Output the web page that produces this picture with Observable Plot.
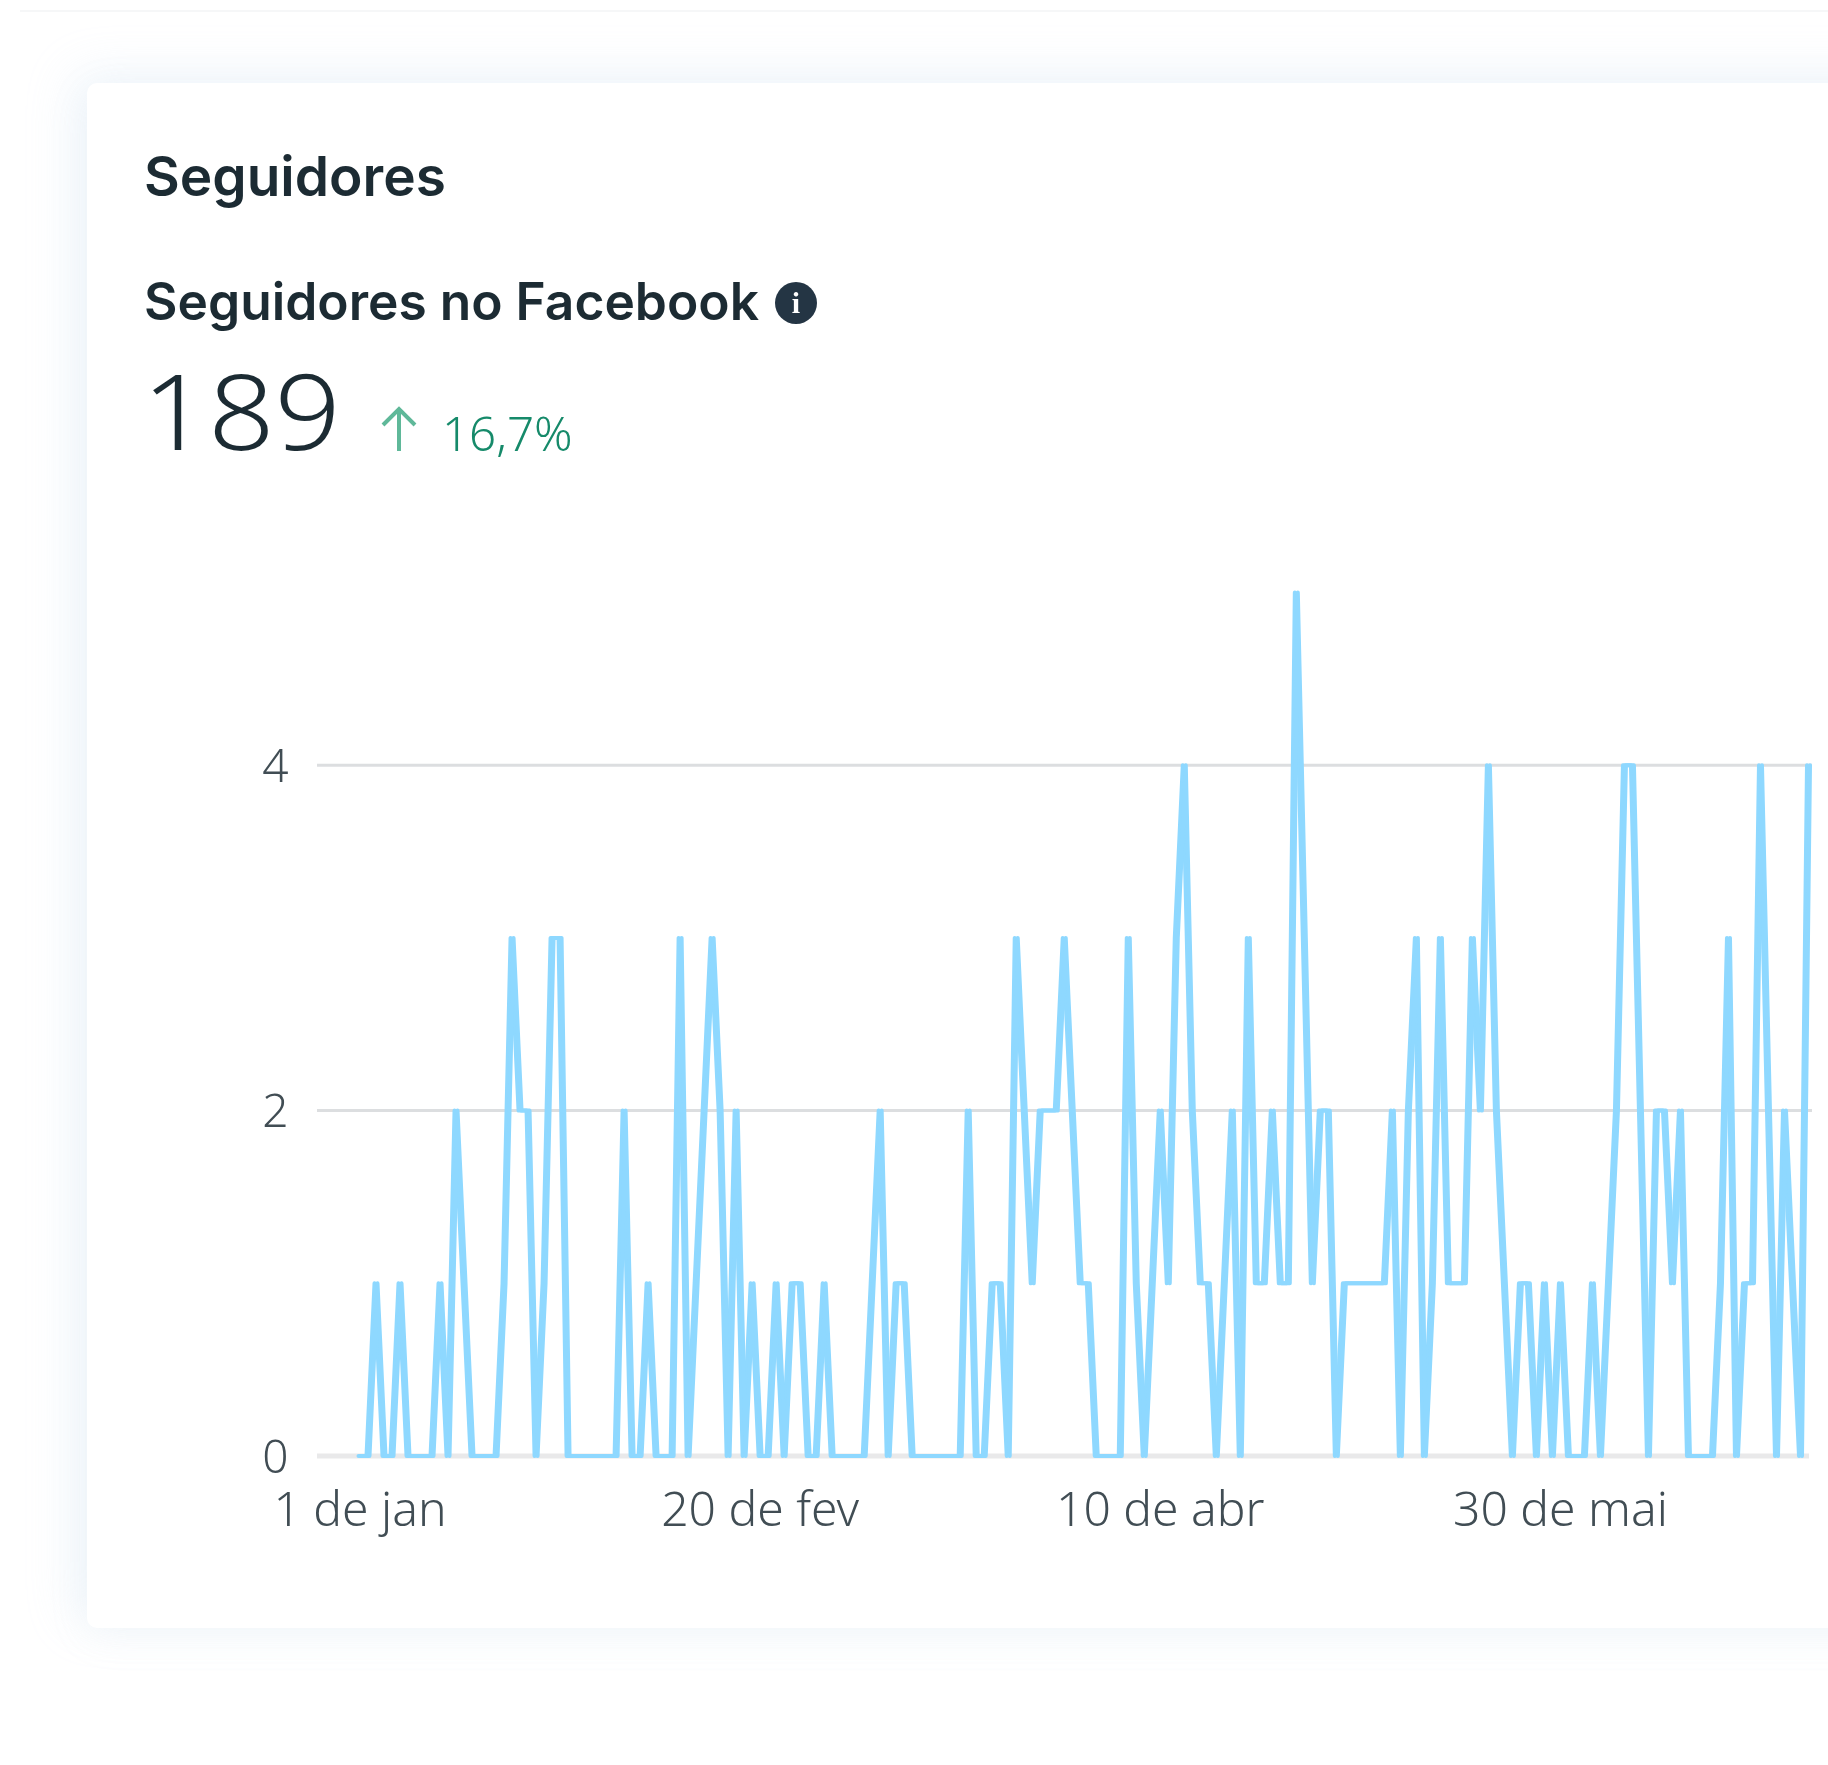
<!DOCTYPE html>
<html lang="pt">
<head>
<meta charset="utf-8">
<script src="https://cdn.jsdelivr.net/npm/d3@7"></script>
<script src="https://cdn.jsdelivr.net/npm/@observablehq/plot@0.6"></script>
<style>
html,body{margin:0;padding:0;background:#fff;width:1828px;height:1765px;overflow:hidden}
#page{position:absolute;left:0;top:0;width:1828px;height:1765px;overflow:hidden;background:#fff;filter:blur(.75px);font-family:"Inter","Noto Sans",sans-serif;color:#1c2b33}
#topline{position:absolute;left:20px;right:0;top:10px;height:2px;background:#f6f7f8}
#card{position:absolute;left:87px;top:83px;width:1900px;height:1545px;background:#fff;border-radius:10px;box-shadow:-12px -8px 50px rgba(190,215,240,.24),0 8px 40px rgba(190,205,220,.10)}
.t{position:absolute;white-space:nowrap;line-height:1}
#h1{left:144px;top:149px;font-size:55px;font-weight:600}
#h2{left:144px;top:276px;font-size:51.5px;font-weight:600}
#info{left:775px;top:282px;width:42px;height:42px;border-radius:50%;background:#243544;color:#fff;font:700 30px/42px "Liberation Serif",serif;text-align:center}
#val{left:142px;top:358px;font-size:104px;font-weight:300;font-family:"Noto Sans";transform:scaleX(1.115);transform-origin:0 0}
#arrow{left:380px;top:406px}
#pct{left:442px;top:409px;font-size:47.5px;font-weight:300;color:#168a6a;font-family:"Noto Sans"}
#chart{position:absolute;left:0;top:520px}
#chart svg{overflow:visible}
</style>
</head>
<body>
<div id="page">
  <div id="topline"></div>
  <div id="card"></div>
  <div class="t" id="h1"></div>
  <div class="t" id="h2"></div>
  <div class="t" id="info">i</div>
  <div class="t" id="val"></div>
  <svg class="t" id="arrow" width="38" height="46" viewBox="0 0 38 46"><path d="M19 45V3M3 19L19 3L35 19" fill="none" stroke="#5fb899" stroke-width="4"/></svg>
  <div class="t" id="pct"></div>
  <div id="chart"></div>
</div>
<script>
const titleText = "Seguidores";
const subtitleText = "Seguidores no Facebook";
const totalText = "189";
const changeText = "16,7%";

const startDate = "2020-01-01";
const followers = [
  0,0,1,0,0,1,0,0,0,0,
  1,0,2,1,0,0,0,0,1,3,
  2,2,0,1,3,3,0,0,0,0,
  0,0,0,2,0,0,1,0,0,0,
  3,0,1,2,3,2,0,2,0,1,
  0,0,1,0,1,1,0,0,1,0,
  0,0,0,0,1,2,0,1,1,0,
  0,0,0,0,0,0,2,0,0,1,
  1,0,3,2,1,2,2,2,3,2,
  1,1,0,0,0,0,3,1,0,1,
  2,1,3,4,2,1,1,0,1,2,
  0,3,1,1,2,1,1,5,3,1,
  2,2,0,1,1,1,1,1,1,2,
  0,2,3,0,1,3,1,1,1,3,
  2,4,2,1,0,1,1,0,1,0,
  1,0,0,0,1,0,1,2,4,4,
  2,0,2,2,1,2,0,0,0,0,
  1,3,0,1,1,4,2,0,2,1,0,4
];
const xTickDates = ["2020-01-01","2020-02-20","2020-04-10","2020-05-30"];
const xTickLabels = ["1 de jan","20 de fev","10 de abr","30 de mai"];
const yTicks = [0,2,4];

document.getElementById("h1").textContent = titleText;
document.getElementById("h2").textContent = subtitleText;
document.getElementById("val").textContent = totalText;
document.getElementById("pct").textContent = changeText;

const start = new Date(startDate + "T00:00:00Z");
const rows = followers.map((v, i) => ({date: d3.utcDay.offset(start, i), value: v}));
const tickDates = xTickDates.map(s => new Date(s + "T00:00:00Z"));
const labelFor = d => xTickLabels[tickDates.findIndex(t => +t === +d)];

const chart = Plot.plot({
  width: 1828,
  height: 1110,
  marginLeft: 317,
  marginRight: 16,
  marginTop: 0,
  marginBottom: 165,
  style: {fontFamily: "'Noto Sans',sans-serif", background: "transparent"},
  x: {type: "utc", domain: [rows[0].date, rows[rows.length - 1].date], range: [359.5, 1808]},
  y: {domain: [0, 5], range: [935.5, 72]},
  marks: [
    Plot.ruleY([2, 4], {stroke: "#dcdee0", strokeWidth: 3}),
    Plot.ruleY([0], {stroke: "#e9e9ea", strokeWidth: 5, insetRight: 3}),
    Plot.axisY({ticks: yTicks, tickSize: 0, tickPadding: 29, dy: 2, label: null, fontSize: 46, color: "#414d54", fontWeight: 300, tickFormat: d => String(d)}),
    Plot.axisX({ticks: tickDates, tickSize: 0, tickPadding: 26, label: null, fontSize: 48, color: "#414d54", fontWeight: 300, tickFormat: labelFor}),
    Plot.line(rows, {x: "date", y: "value", stroke: "#8ed8ff", strokeWidth: 4, dx: -1.5}),
    Plot.line(rows, {x: "date", y: "value", stroke: "#8ed8ff", strokeWidth: 4, dx: 1.5})
  ]
});
document.getElementById("chart").appendChild(chart);
</script>
</body>
</html>
